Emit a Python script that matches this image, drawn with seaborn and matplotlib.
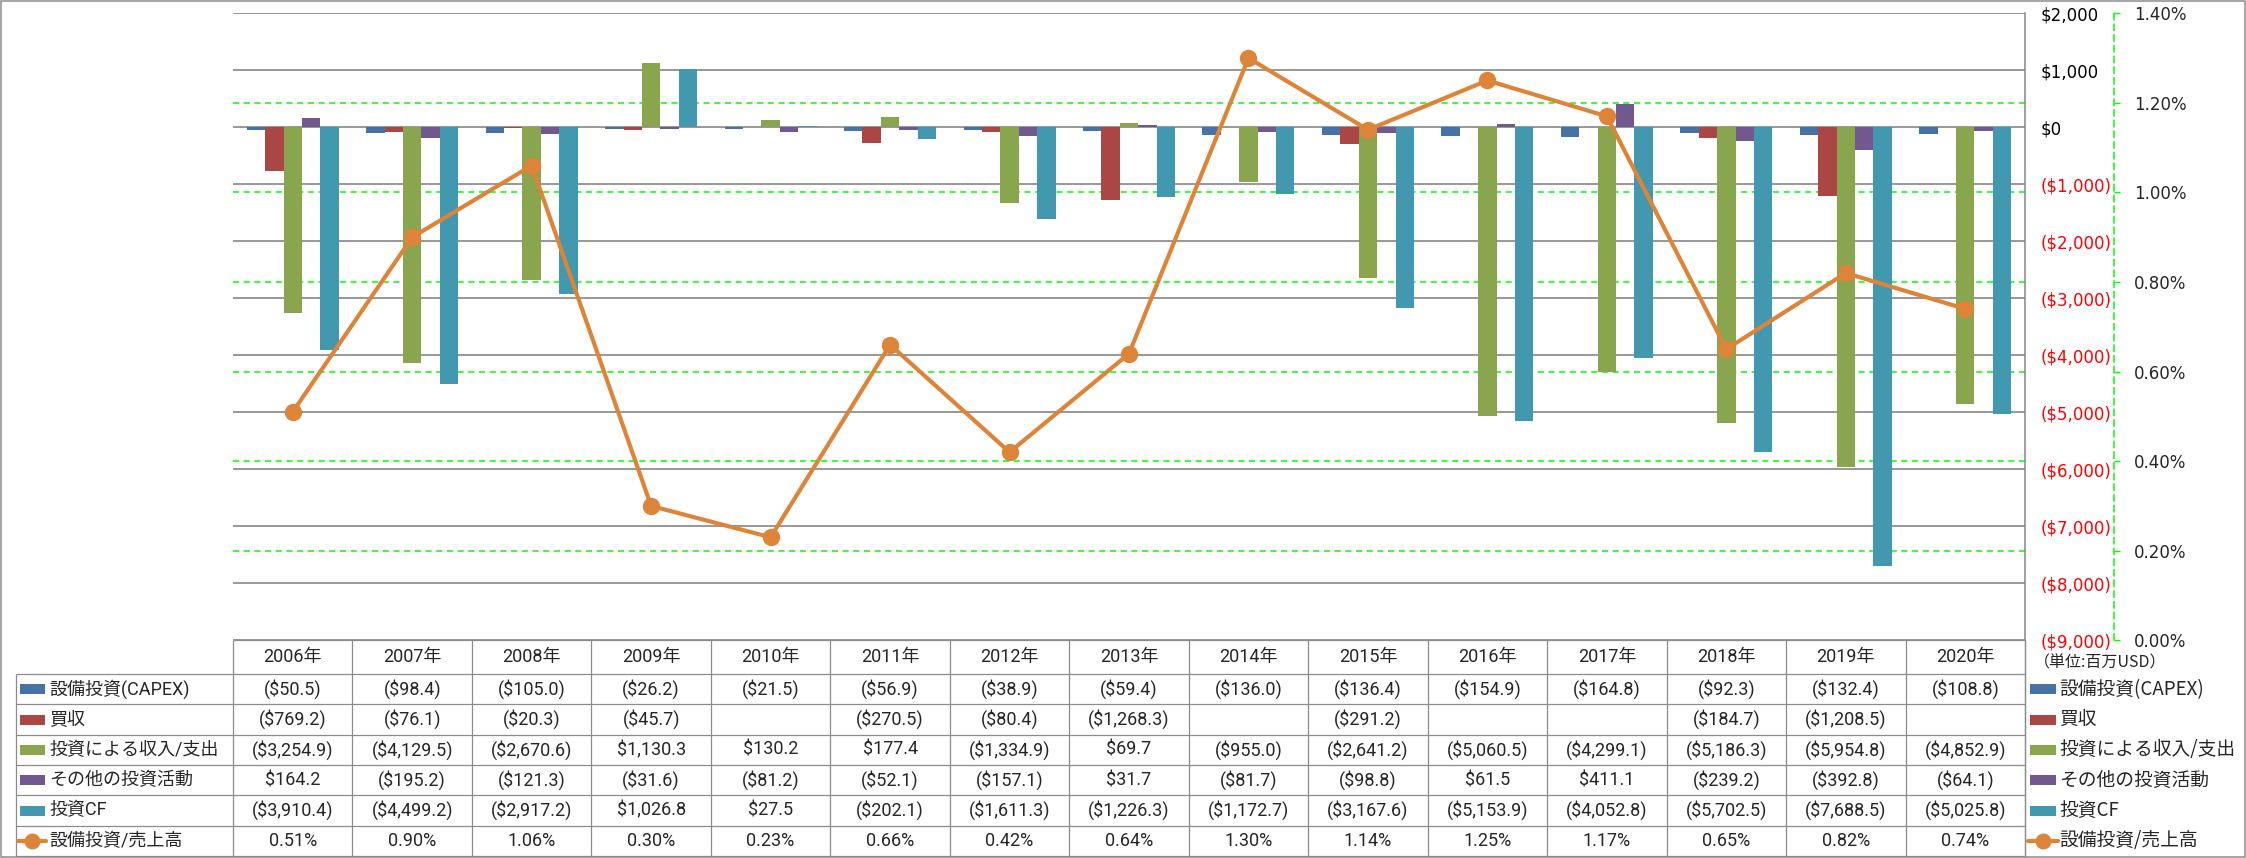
import numpy as np
import pandas as pd
import matplotlib
matplotlib.use("Agg")
import matplotlib.pyplot as plt
from matplotlib.patches import Rectangle
import seaborn as sns

years = ['2006年', '2007年', '2008年', '2009年', '2010年', '2011年', '2012年', '2013年',
         '2014年', '2015年', '2016年', '2017年', '2018年', '2019年', '2020年']

capex = [-50.5, -98.4, -105.0, -26.2, -21.5, -56.9, -38.9, -59.4,
         -136.0, -136.4, -154.9, -164.8, -92.3, -132.4, -108.8]
acquisitions = [-769.2, -76.1, -20.3, -45.7, np.nan, -270.5, -80.4, -1268.3,
                np.nan, -291.2, np.nan, np.nan, -184.7, -1208.5, np.nan]
investments = [-3254.9, -4129.5, -2670.6, 1130.3, 130.2, 177.4, -1334.9, 69.7,
               -955.0, -2641.2, -5060.5, -4299.1, -5186.3, -5954.8, -4852.9]
other_invest = [164.2, -195.2, -121.3, -31.6, -81.2, -52.1, -157.1, 31.7,
                -81.7, -98.8, 61.5, 411.1, -239.2, -392.8, -64.1]
invest_cf = [-3910.4, -4499.2, -2917.2, 1026.8, 27.5, -202.1, -1611.3, -1226.3,
             -1172.7, -3167.6, -5153.9, -4052.8, -5702.5, -7688.5, -5025.8]
capex_to_sales = [0.51, 0.90, 1.06, 0.30, 0.23, 0.66, 0.42, 0.64,
                  1.30, 1.14, 1.25, 1.17, 0.65, 0.82, 0.74]

bar_names = ['設備投資(CAPEX)', '買収', '投資による収入/支出', 'その他の投資活動', '投資CF']
line_name = '設備投資/売上高'
bar_values = [capex, acquisitions, investments, other_invest, invest_cf]
bar_colors = ['#4572A7', '#AA4643', '#89A54E', '#71588F', '#4198AF']
line_color = '#DE8439'

usd_ticks = list(range(-9000, 2001, 1000))
pct_ticks = [0.0, 0.2, 0.4, 0.6, 0.8, 1.0, 1.2, 1.4]
unit_label = '（単位:百万USD）'

df = pd.DataFrame(
    [(y, name, v) for name, vals in zip(bar_names, bar_values) for y, v in zip(years, vals)],
    columns=['year', 'series', 'value']).dropna()

sns.set_theme(style='white')
plt.rcParams['font.family'] = ['DejaVu Sans', 'Noto Sans CJK JP']

W, H = 2246, 858
PL, PR, PT, PB = 233, 2025, 13.3, 640.3
grid_gray = '#868686'
line_gray = '#8C8C8C'
lime = '#00FF00'

fig = plt.figure(figsize=(W / 100, H / 100), dpi=100)
fig.patch.set_facecolor('white')

# overlay in pixel coordinates for the data table and frame
ax_t = fig.add_axes([0, 0, 1, 1], zorder=0)
ax_t.set_xlim(0, W)
ax_t.set_ylim(H, 0)
ax_t.axis('off')

ax = fig.add_axes([PL / W, 1 - PB / H, (PR - PL) / W, (PB - PT) / H], zorder=1)
ax.patch.set_visible(False)

sns.barplot(data=df, x='year', y='value', hue='series', order=years, hue_order=bar_names,
            palette=bar_colors, width=0.77, errorbar=None, saturation=1, linewidth=0,
            legend=False, ax=ax)
ax.set_ylim(-9000, 2000)
ax.set_xlim(-0.5, len(years) - 0.5)
ax.yaxis.grid(True, color=grid_gray, lw=1.2)
ax.set_axisbelow(True)
for p in pct_ticks[1:-1]:
    ax.axhline(-9000 + p / 1.4 * 11000, color=lime, lw=1.1, ls=(0, (4, 3)), zorder=0.5)
for s in ['left', 'top', 'bottom']:
    ax.spines[s].set_visible(False)
ax.spines['right'].set_color(grid_gray)
ax.spines['right'].set_linewidth(1.1)
ax.set_xlabel('')
ax.set_ylabel('')

ax2 = ax.twinx()
ax2.set_zorder(2)
sns.lineplot(x=years, y=capex_to_sales, sort=False, color=line_color, lw=3, marker='o',
             markersize=12.5, markeredgewidth=0, ax=ax2)
ax2.set_ylim(0, 1.4)
ax2.set_xlim(-0.5, len(years) - 0.5)
ax2.set_yticks(pct_ticks)
ax2.set_yticklabels([f'{v:.2f}%' for v in pct_ticks])
ax2.tick_params(axis='y', length=4, width=1, color=lime, pad=10.5, labelsize=12)
ax2.tick_params(axis='x', bottom=False, labelbottom=False)
for s in ['left', 'top', 'bottom']:
    ax2.spines[s].set_visible(False)
ax2.spines['right'].set_position(('axes', (2114 - PL) / (PR - PL)))
ax2.spines['right'].set_color(lime)
ax2.spines['right'].set_linestyle((0, (4, 3)))
ax2.spines['right'].set_linewidth(1.1)
ax2.set_xlabel('')
ax2.set_ylabel('')

# primary value axis labels sit on the right (twinx resets them to the left)
ax.yaxis.set_ticks_position('right')
ax.yaxis.set_label_position('right')
ax.set_yticks(usd_ticks)
ax.set_yticklabels([f'${v:,.0f}' if v >= 0 else f'(${-v:,.0f})' for v in usd_ticks])
for lbl, v in zip(ax.get_yticklabels(), usd_ticks):
    lbl.set_color('#FF0000' if v < 0 else 'black')
ax.tick_params(axis='y', length=0, pad=11, labelsize=12, left=False, labelleft=False,
               right=True, labelright=True)
ax.tick_params(axis='x', bottom=False, labelbottom=False)

# data table
col_w = (PR - PL) / len(years)
row_h = (856 - 674) / 6
rows_y = [674 + i * row_h for i in range(7)]
tfont = ['Roboto', 'Noto Sans CJK JP']
lkw = dict(color=line_gray, lw=0.9, solid_capstyle='butt')

ax_t.plot([PL, PR], [PB, PB], **lkw)
for k in range(len(years) + 1):
    ax_t.plot([PL + k * col_w] * 2, [PB, rows_y[-1]], **lkw)
ax_t.plot([PR, PR], [PB, rows_y[-1]], **lkw)
ax_t.plot([16, 16], [rows_y[0], rows_y[-1]], **lkw)
for y in rows_y:
    ax_t.plot([16, PR], [y, y], **lkw)

for k, yr in enumerate(years):
    ax_t.text(PL + (k + 0.5) * col_w, (PB + rows_y[0]) / 2, yr, ha='center', va='center',
              fontsize=13, family=tfont)


def money(v):
    if np.isnan(v):
        return ''
    return f'(${-v:,.1f})' if v < 0 else f'${v:,.1f}'


table_rows = [[money(v) for v in vals] for vals in bar_values]
table_rows.append([f'{v:.2f}%' for v in capex_to_sales])
row_names = bar_names + [line_name]

for r, (name, cells) in enumerate(zip(row_names, table_rows)):
    yc = (rows_y[r] + rows_y[r + 1]) / 2
    for k, txt in enumerate(cells):
        ax_t.text(PL + (k + 0.5) * col_w, yc, txt, ha='center', va='center',
                  fontsize=13, family=tfont)
    # left row keys
    ax_t.text(49, yc, name, ha='left', va='center', fontsize=13, family=tfont)
    # right legend
    ax_t.text(2059, yc, name, ha='left', va='center', fontsize=13.5, family=['Noto Sans CJK JP'])
    if r < len(bar_names):
        ax_t.add_patch(Rectangle((20, yc - 5), 25, 10, color=bar_colors[r], lw=0))
        ax_t.add_patch(Rectangle((2030, yc - 5), 26, 10, color=bar_colors[r], lw=0))
    else:
        for x0, x1 in [(18, 46), (2028, 2058)]:
            ax_t.plot([x0, x1], [yc, yc], color=line_color, lw=3)
            ax_t.plot([(x0 + x1) / 2], [yc], marker='o', ms=11.5, mew=0, color=line_color)

ax_t.text(2034, 663, unit_label, ha='left', va='center', fontsize=11.5, family=['Noto Sans CJK JP'])

ax_t.add_patch(Rectangle((0.8, 0.8), W - 1.6, H - 1.6, fill=False, edgecolor=line_gray, lw=1.1))

fig.savefig('out.png', dpi=100, facecolor='white')
